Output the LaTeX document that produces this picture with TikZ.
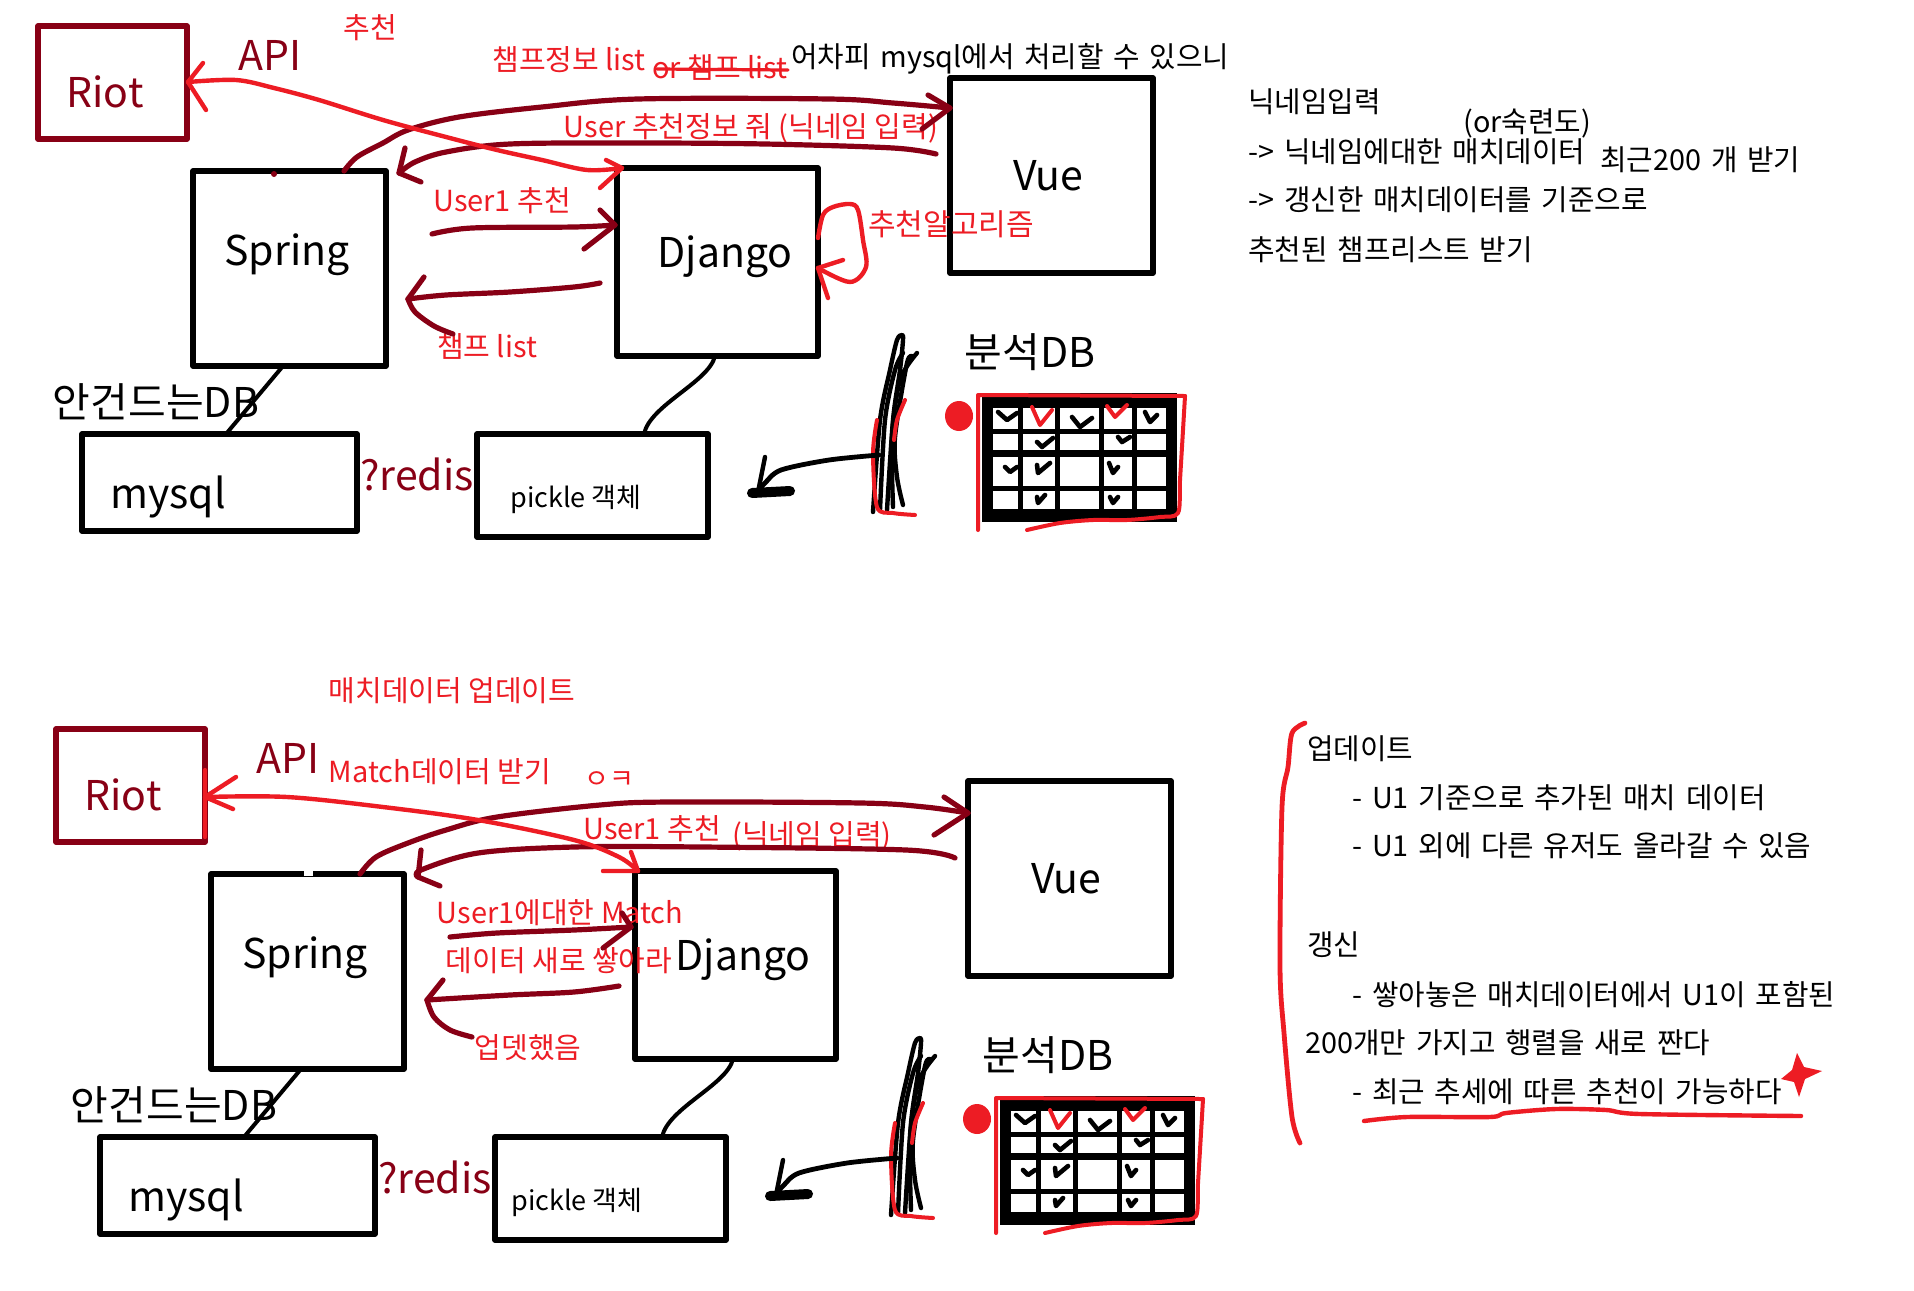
\documentclass[tikz,border=0pt]{standalone}
\usepackage{fontspec}
\setmainfont{Noto Sans CJK KR}
\newfontfamily\notefont[WordSpace=1.5]{Noto Sans CJK KR}
\usetikzlibrary{calc}
\definecolor{dred}{RGB}{136,0,21}
\definecolor{bred}{RGB}{237,28,36}
\newcommand\fbig{\fontsize{20.5pt}{24pt}\selectfont}
\newcommand\fmid{\fontsize{14.5pt}{17pt}\selectfont}
\newcommand\fpick{\fontsize{13.5pt}{16pt}\selectfont}
\newcommand\fsml{\notefont\fontsize{14.4pt}{17pt}\selectfont}
\tikzset{
 sbox/.style={draw=black, line width=2.6pt, inner sep=0pt, outer sep=0pt},
 rbox/.style={sbox, draw=dred},
 bigt/.style={font=\fbig, inner sep=0pt, anchor=base},
 redt/.style={font=\fmid, text=bred, inner sep=0pt, anchor=base},
 blkt/.style={font=\fsml, inner sep=0pt, anchor=base west},
 darr/.style={draw=dred, line width=2.6pt},
 rarr/.style={draw=bred, line width=2.2pt},
 bln/.style={draw=black, line width=2pt},
 scrib/.style={draw=black, line width=2.2pt},
 rscrib/.style={draw=bred, line width=2pt},
 chk/.style={draw=black, line width=2.3pt},
 rchk/.style={draw=bred, line width=2pt},
}
\newcommand\dbgroup[1]{%
 % analysis DB grid
 \fill[black] (982,393) rectangle (1177,522);
 \foreach \xa/\xb in {993/1018,1023/1055,1060/1099,1104/1132,1137/1166}{
   \foreach \ya/\yb in {408/429,434/450,457/486,491/509}{
     \fill[white] (\xa,\ya) rectangle (\xb,\yb);}}
 \draw[chk] (998,412) -- (1007,420) -- (1017,413);
 \draw[rchk] (1032,407) -- (1040,425) -- (1052,410);
 \draw[chk] (1072,417) -- (1080,427) -- (1092,418);
 \draw[rchk] (1107,406) -- (1115,417) -- (1127,405);
 \draw[chk] (1145,412) -- (1150,422) -- (1157,415);
 \draw[chk] (1037,442) -- (1042,447) -- (1053,438);
 \draw[chk] (1118,437) -- (1122,442) -- (1130,437);
 \draw[chk] (1005,467) -- (1010,472) -- (1017,467);
 \draw[chk] (1037,465) -- (1038,473) -- (1050,463);
 \draw[chk] (1109,463) -- (1113,473) -- (1118,467);
 \draw[chk] (1037,497) -- (1038,503) -- (1045,495);
 \draw[chk] (1110,497) -- (1113,503) -- (1118,497);
 \draw[rscrib] (978,530) -- (978,395) -- (1185,396);
 \draw[rscrib] plot[smooth,tension=0.5] coordinates {(1185,396) (1183,430) (1180,480) (1178,513) (1160,517) (1127,520) (1093,520) (1060,523) (1027,530)};
 \fill[bred] (959,416) ellipse (7pt and 7.5pt);
 % scribble
 \draw[scrib] plot[smooth,tension=0.5] coordinates {(873,512) (880,420) (890,370) (897,340) (902,335) (903,340) (900,370) (893,420) (887,510)};
 \draw[scrib] plot[smooth,tension=0.5] coordinates {(880,510) (885,420) (895,370) (903,353)};
 \draw[scrib] plot[smooth,tension=0.5] coordinates {(893,507) (892,437) (900,380) (917,353)};
 \draw[scrib] plot[smooth,tension=0.5] coordinates {(903,505) (897,477) (895,437) (907,363) (913,357)};
 \draw[rscrib] plot[smooth,tension=0.5] coordinates {(905,400) (897,420) (894,440)};
 \draw[rscrib] plot[smooth,tension=0.5] coordinates {(877,420) (873,453) (877,507) (893,513) (915,515)};
 % arrow to pickle
 \coordinate (dbs#1) at (879,455);
 \coordinate (dbt#1) at (757,492);
 \draw[line width=2.4pt] plot[smooth,tension=0.5] coordinates {(dbs#1) (829,460) (781,470) (765,483) (dbt#1)};
 \draw[line width=2.2pt] (765,457) -- (758,492);
 \draw[line width=5pt] (752,493) -- (790,491);
}
\newcommand\basediagram[1]{%
 \node[rbox, minimum width=74.5pt, minimum height=56.5pt] (riot#1) at (112.5,82.5) {};
 \node[sbox, minimum width=96.5pt, minimum height=97.5pt] (spring#1) at (289.5,268.5) {};
 \node[sbox, minimum width=100.5pt, minimum height=94pt] (django#1) at (717.5,262) {};
 \node[sbox, minimum width=101.5pt, minimum height=97.5pt] (vue#1) at (1051.5,175.5) {};
 \node[sbox, minimum width=137.5pt, minimum height=48.5pt] (mysql#1) at (219.5,482.5) {};
 \node[sbox, minimum width=115.5pt, minimum height=51.5pt] (pickle#1) at (592.5,485.5) {};
 \node[bigt, text=dred] (riott#1) at (105,107) {Riot};
 \node[bigt, text=dred] (api#1) at (270,70) {API};
 \node[bigt] (springt#1) at (287,265) {Spring};
 \node[bigt] (djangot#1) at (725,267) {Django};
 \node[bigt] (vuet#1) at (1048,190) {Vue};
 \node[bigt] (mysqlt#1) at (168,508) {mysql};
 \node[bigt, text=dred] (redis#1) at (417,490) {?redis};
 \node[bigt] (ankdb#1) at (156,417) {안건드는DB};
 \node[bigt] (andb#1) at (1030,367) {분석DB};
 \draw[bln] (spring#1.south -| 283,0) -- (mysql#1.north -| 226,0);
 \draw[bln] (django#1.south -| 715,0) .. controls (709,382) and (650,405) .. (pickle#1.north -| 644,0);
 \dbgroup{#1}
}
\begin{document}
\begin{tikzpicture}[x=0.5pt,y=-0.5pt,line cap=round,line join=round]
\fill[white] (0,0) rectangle (1914,1290);
\useasboundingbox (0,0) rectangle (1914,1290);

%================ TOP ================
\basediagram{1}
\fill[dred] (274,174) circle (1.5pt);
\node[anchor=base, font=\fpick, inner sep=0pt] (pick1) at (576,507) {pickle 객체};

\node[redt] (tuijian) at (370,38) {추천};
\node[redt] (champinfo) at (569,70) {챔프정보 list};
\node[redt] (orchamp) at (720,78) {or 챔프 list};
\draw[bred, line width=1.6pt] (657,69) -- (788,70);
\node[blkt] (mysqlnote) at (791,67) {어차피 mysql에서 처리할 수 있으니};
\node[redt] (reqlab) at (751,137) {User 추천정보 줘 (닉네임 입력)};
\node[redt] (u1lab) at (502,211) {User1 추천};
\node[redt] (chlab) at (487,357) {챔프 list};
\node[redt, font=\fontsize{15pt}{18pt}\selectfont] (algo) at (951,235) {추천알고리즘};

% Spring -> Vue
\coordinate (a1s) at (spring1.north -| 344,0);
\coordinate (a1e) at (vue1.west |- 0,108);
\draw[darr] plot[smooth,tension=0.55] coordinates {(a1s) (357,157) (383,143) (408,130) (459,117) (542,107) (638,99) (829,99) (893,103) (a1e)};
\draw[darr] (928,95) -- (a1e) -- (922,129);
% Vue -> Spring
\coordinate (a2s) at (936,154);
\coordinate (a2e) at (399,173);
\draw[darr] plot[smooth,tension=0.55] coordinates {(a2s) (893,148) (765,144) (638,143) (510,144) (446,152) (415,162) (a2e)};
\draw[darr] (405,148) -- (a2e) -- (421,182);
% Riot <-> Django
\coordinate (a3a) at (188,82);
\coordinate (a3b) at (django1.north west -| 622,0);
\draw[rarr] plot[smooth,tension=0.55] coordinates {(a3a) (236,80) (274,88) (319,100) (383,120) (446,137) (497,150) (542,160) (587,170) (a3b)};
\draw[rarr] (203,63) -- (a3a) -- (206,110);
\draw[rarr] (606,160) -- (a3b) -- (600,188);
% Spring -> Django
\coordinate (a4s) at (432,234);
\coordinate (a4e) at (615,225);
\draw[darr] plot[smooth,tension=0.55] coordinates {(a4s) (472,228) (574,227) (a4e)};
\draw[darr] (600,210) -- (a4e) -- (584,249);
% Django -> Spring
\coordinate (a5s) at (600,283);
\coordinate (a5e) at (408,299);
\draw[darr] plot[smooth,tension=0.55] coordinates {(a5s) (574,287) (510,292) (446,295) (a5e)};
\draw[darr] (424,277) -- (a5e);
\draw[darr] plot[smooth,tension=0.55] coordinates {(a5e) (415,312) (434,326) (453,334)};
% self loop on Django
\coordinate (a6s) at (django1.east |- 0,238);
\coordinate (a6e) at (django1.east |- 0,268);
\draw[rarr] plot[smooth,tension=0.55] coordinates {(a6s) (823,215) (833,207) (850,204) (858,210) (863,240) (866,267) (850,282) (a6e)};
\draw[rarr] (843,260) -- (a6e) -- (828,298);

% top-right notes
\node[blkt] (n1) at (1248,112) {닉네임입력};
\node[blkt] (n2) at (1463,132) {(or숙련도)};
\node[blkt] (n3) at (1248,162) {-> 닉네임에대한 매치데이터};
\node[blkt] (n4) at (1600,170) {최근200 개 받기};
\node[blkt] (n5) at (1248,210) {-> 갱신한 매치데이터를 기준으로};
\node[blkt] (n6) at (1248,260) {추천된 챔프리스트 받기};

%================ BOTTOM ================
\begin{scope}[shift={(18,703)}]
\basediagram{2}
\end{scope}
\draw[rarr] (205,770) -- (205,837);
\draw[white, line width=3pt, line cap=butt] (304,873) -- (313,873);
\node[anchor=base, font=\fpick, inner sep=0pt] (pick2) at (577,1210) {pickle 객체};

\node[redt] (updlab) at (452,701) {매치데이터 업데이트};
\node[redt] (matchlab) at (440,782) {Match데이터 받기};
\node[redt, font=\fontsize{13.5pt}{16pt}\selectfont] (oklab) at (609,788) {ㅇㅋ};
\node[redt] (u1lab2) at (652,839) {User1 추천};
\node[redt] (nicklab2) at (812,845) {(닉네임 입력)};
\node[redt] (u1match) at (560,923) {User1에대한 Match};
\node[redt] (newdata) at (559,971) {데이터 새로 쌓아라};
\node[redt] (updated) at (528,1058) {업뎃했음};

% Spring -> Vue
\coordinate (b1s) at (spring2.north -| 360,0);
\coordinate (b1e) at (vue2.west |- 0,813);
\draw[darr] plot[smooth,tension=0.55] coordinates {(b1s) (376,857) (408,843) (446,830) (497,817) (600,805) (670,802) (861,803) (925,807) (b1e)};
\draw[darr] (944,797) -- (b1e) -- (934,835);
% Vue -> Spring
\coordinate (b2s) at (955,858);
\coordinate (b2e) at (418,877);
\draw[darr] plot[smooth,tension=0.55] coordinates {(b2s) (906,850) (702,847) (574,847) (478,853) (421,870) (b2e)};
\draw[darr] (421,850) -- (b2e) -- (440,886);
% Riot <-> Django
\coordinate (b3a) at (riot2.east |- 0,797);
\coordinate (b3b) at (django2.north -| 638,0);
\draw[rarr] plot[smooth,tension=0.55] coordinates {(b3a) (287,797) (383,807) (478,820) (574,840) (619,857) (b3b)};
\draw[rarr] (236,777) -- (b3a) -- (233,809);
\draw[rarr] (631,852) -- (b3b) -- (603,871);
% Spring -> Django
\coordinate (b4s) at (450,937);
\coordinate (b4e) at (631,927);
\draw[darr] plot[smooth,tension=0.55] coordinates {(b4s) (497,933) (574,930) (b4e)};
\draw[darr] (622,913) -- (b4e) -- (603,948);
% Django -> Spring
\coordinate (b5s) at (619,986);
\coordinate (b5e) at (427,1000);
\draw[darr] plot[smooth,tension=0.55] coordinates {(b5s) (574,992) (510,995) (b5e)};
\draw[darr] (443,980) -- (b5e);
\draw[darr] plot[smooth,tension=0.55] coordinates {(b5e) (434,1017) (450,1030) (472,1037)};

% bottom-right notes
\draw[rscrib, line width=2.4pt] plot[smooth,tension=0.5] coordinates {(1305,723) (1292,733) (1288,767) (1282,807) (1280,967) (1284,1033) (1292,1117) (1300,1143)};
\node[blkt] (m1) at (1307,759) {업데이트};
\node[blkt] (m2) at (1352,808) {- U1 기준으로 추가된 매치 데이터};
\node[blkt] (m3) at (1352,856) {- U1 외에 다른 유저도 올라갈 수 있음};
\node[blkt] (m4) at (1307,955) {갱신};
\node[blkt] (m5) at (1352,1005) {- 쌓아놓은 매치데이터에서 U1이 포함된};
\node[blkt] (m6) at (1305,1053) {200개만 가지고 행렬을 새로 짠다};
\node[blkt] (m7) at (1352,1102) {- 최근 추세에 따른 추천이 가능하다};
\draw[rscrib, line width=2.2pt] plot[smooth,tension=0.5] coordinates {(1364,1121) (1407,1117) (1490,1117) (1506,1113) (1556,1109) (1606,1110) (1640,1114) (1801,1116)};
\fill[bred] (1797,1053) -- (1804,1067) -- (1822,1071) -- (1805,1079) -- (1799,1097) -- (1794,1082) -- (1781,1079) -- (1792,1070) -- cycle;
\end{tikzpicture}
\end{document}
